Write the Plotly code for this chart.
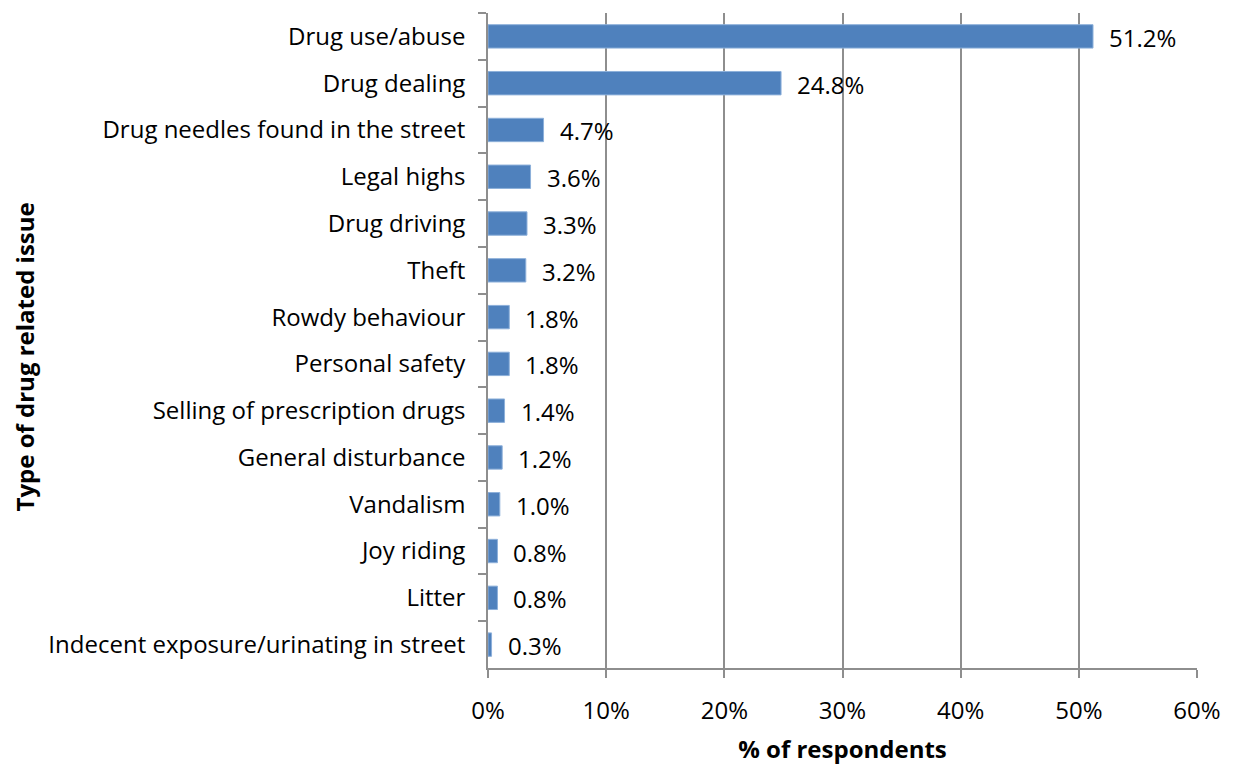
import plotly.graph_objects as go

categories = [
    "Drug use/abuse",
    "Drug dealing",
    "Drug needles found in the street",
    "Legal highs",
    "Drug driving",
    "Theft",
    "Rowdy behaviour",
    "Personal safety",
    "Selling of prescription drugs",
    "General disturbance",
    "Vandalism",
    "Joy riding",
    "Litter",
    "Indecent exposure/urinating in street",
]
values = [51.2, 24.8, 4.7, 3.6, 3.3, 3.2, 1.8, 1.8, 1.4, 1.2, 1.0, 0.8, 0.8, 0.3]
x_ticks = [0, 10, 20, 30, 40, 50, 60]
x_tick_labels = [f"{t}%" for t in x_ticks]

FONT = "Open Sans"
FS = 24
GRID = "#8E8E8E"
fig = go.Figure()
fig.add_trace(go.Bar(
    x=values, y=categories, orientation="h",
    marker=dict(color="#4F81BD", line=dict(color="#8DB0DA", width=1)),
    hoverinfo="skip",
))
for c, v in zip(categories, values):
    fig.add_annotation(x=v, y=c, text=f"{v:.1f}%", showarrow=False,
                       xanchor="left", xshift=14, yshift=-1,
                       font=dict(family=FONT, size=FS, color="#000000"))

# y-axis title as a rotated annotation so it can sit at the far left edge
fig.add_annotation(xref="paper", yref="paper", x=0, y=0.5,
                   text="<b>Type of drug related issue</b>", textangle=-90,
                   showarrow=False, xanchor="center", yanchor="middle",
                   xshift=-464, yshift=-17,
                   font=dict(family=FONT, size=FS, color="#000000"))

# page body has an 8px margin, so the figure is offset by 8px
fig.update_layout(
    width=1227, height=757,
    margin=dict(l=480, r=38, t=5, b=92),
    paper_bgcolor="white", plot_bgcolor="white",
    bargap=0.5, showlegend=False,
    font=dict(family=FONT, size=FS, color="#000000"),
)
fig.update_xaxes(
    range=[0, 60], tickvals=x_ticks, ticktext=x_tick_labels,
    showgrid=True, gridcolor=GRID, gridwidth=1.6,
    showline=True, linecolor=GRID, linewidth=1.6,
    ticks="outside", ticklen=8, tickcolor=GRID, tickwidth=1.6,
    ticklabelstandoff=12, zeroline=False,
    title=dict(text="<b>% of respondents</b>", standoff=18,
               font=dict(family=FONT, size=FS)),
)
fig.update_yaxes(
    categoryorder="array", categoryarray=categories, autorange="reversed",
    showline=True, linecolor=GRID, linewidth=1.6,
    ticks="outside", ticklen=8, tickcolor=GRID, tickwidth=1.6,
    tickson="boundaries",
    ticklabelstandoff=16, showgrid=False, automargin=False,
)
fig.write_html("out.html")
